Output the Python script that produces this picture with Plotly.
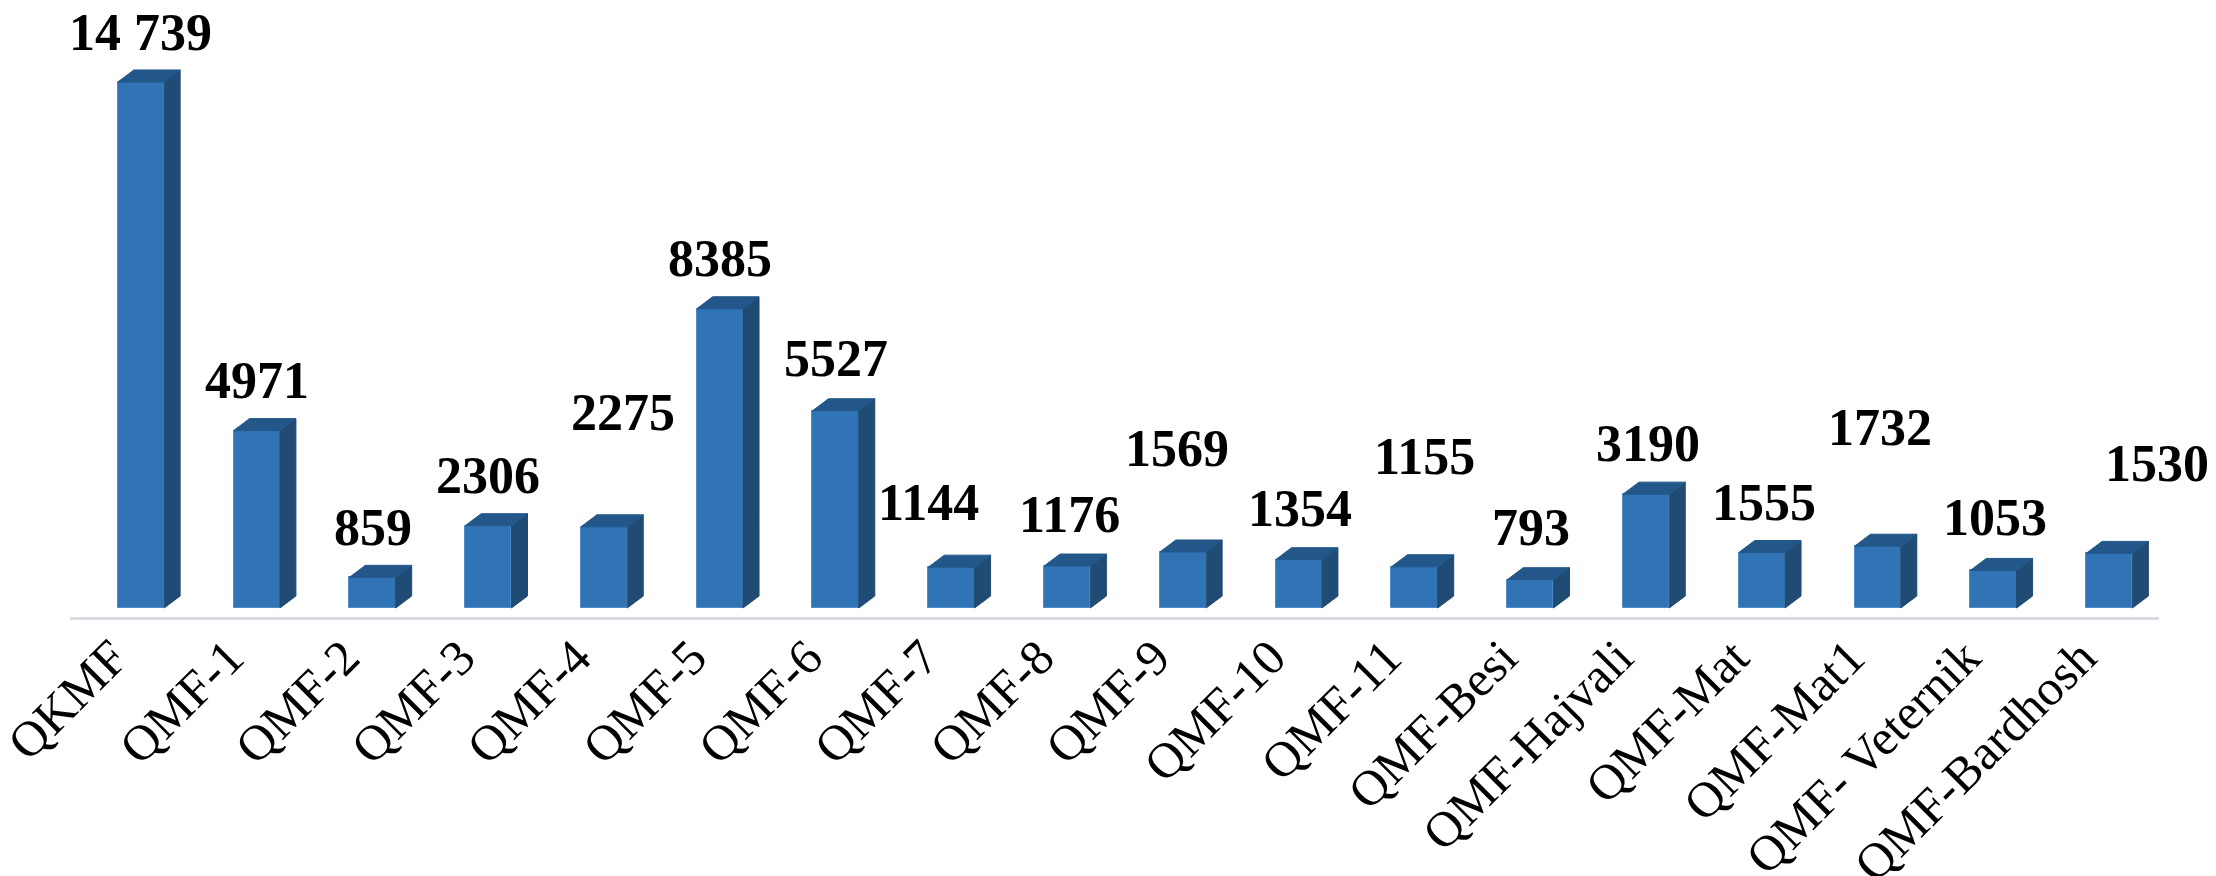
import plotly.graph_objects as go

# ---- data ----
categories = ["QKMF", "QMF-1", "QMF-2", "QMF-3", "QMF-4", "QMF-5", "QMF-6", "QMF-7",
              "QMF-8", "QMF-9", "QMF-10", "QMF-11", "QMF-Besi", "QMF-Hajvali",
              "QMF-Mat", "QMF-Mat1", "QMF- Veternik", "QMF-Bardhosh"]
values = [14739, 4971, 859, 2306, 2275, 8385, 5527, 1144, 1176, 1569, 1354, 1155,
          793, 3190, 1555, 1732, 1053, 1530]
value_labels = ["14 739", "4971", "859", "2306", "2275", "8385", "5527", "1144", "1176",
                "1569", "1354", "1155", "793", "3190", "1555", "1732", "1053", "1530"]

# ---- label placement nudges (pixels, styling only) ----
label_dx = [0, 0, 0, 0, 19, 0, 0, -23, 2, -6, 1, 10, 1, 2, 2, 2, 2, 48]
label_dy = [22, 23, 22, 23, 87, 23, 25, 37, 24, 76, 24, 83, 25, 23, 23, 91, 25, 62]

# ---- geometry / style ----
W, H = 2216, 876
ML, MR, MT, MB = 62, 65, 0, 267
PX_PER_UNIT = 0.03569          # vertical pixels per value unit
BASE_GAP_PX = 9                # floor line below bar base
BAR_W = 0.4                    # category units
n = len(categories)
xr = [-0.613, n - 1 + 0.43]
plot_w = W - ML - MR
px_per_cat = plot_w / (xr[1] - xr[0])
DEPTH_X = 16 / px_per_cat      # 3D depth in category units
DEPTH_Y = 12 / PX_PER_UNIT     # 3D depth in value units
plot_h = H - MT - MB
yr = [-BASE_GAP_PX / PX_PER_UNIT, (plot_h - BASE_GAP_PX) / PX_PER_UNIT]

FRONT = "#3174B6"
SIDE = "#1F4B75"
TOP = "#23578A"
EDGE = "#4F8CC9"
FONT = "Times New Roman, Liberation Serif, serif"

idx = list(range(n))

side_x, side_y, top_x, top_y = [], [], [], []
for i, v in zip(idx, values):
    r = i + BAR_W / 2
    l = i - BAR_W / 2
    side_x += [r, r + DEPTH_X, r + DEPTH_X, r, r, None]
    side_y += [0, DEPTH_Y, v + DEPTH_Y, v, 0, None]
    top_x += [l, r, r + DEPTH_X, l + DEPTH_X, l, None]
    top_y += [v, v, v + DEPTH_Y, v + DEPTH_Y, v, None]

fig = go.Figure()
fig.add_trace(go.Scatter(x=side_x, y=side_y, mode="lines", fill="toself",
                         fillcolor=SIDE, line=dict(color=SIDE, width=1),
                         hoverinfo="skip", showlegend=False))
fig.add_trace(go.Scatter(x=top_x, y=top_y, mode="lines", fill="toself",
                         fillcolor=TOP, line=dict(color=TOP, width=1),
                         hoverinfo="skip", showlegend=False))
fig.add_trace(go.Bar(x=idx, y=values, width=BAR_W,
                     marker=dict(color=FRONT, line=dict(color=EDGE, width=1)),
                     showlegend=False))

for i, (v, t) in enumerate(zip(values, value_labels)):
    fig.add_annotation(x=i, y=v, text="<b>%s</b>" % t, showarrow=False,
                       xanchor="center", yanchor="bottom",
                       xshift=label_dx[i], yshift=label_dy[i] - 3,
                       font=dict(family=FONT, size=52, color="black"))

fig.update_layout(
    width=W, height=H,
    margin=dict(l=ML, r=MR, t=MT, b=MB, pad=0, autoexpand=False),
    paper_bgcolor="white", plot_bgcolor="white",
    bargap=0,
    xaxis=dict(range=xr, tickmode="array", tickvals=idx, ticktext=categories,
               tickangle=-45, showgrid=False, zeroline=False, automargin=False,
               showline=True, linecolor="#D9DCE3", linewidth=3,
               ticks="", ticklabelstandoff=-12, ticklabelshift=-28,
               ticklabeloverflow="allow",
               tickfont=dict(family=FONT, size=50, color="black")),
    yaxis=dict(range=yr, visible=False, showgrid=False, zeroline=False,
               automargin=False),
)

fig.write_html("out.html")
